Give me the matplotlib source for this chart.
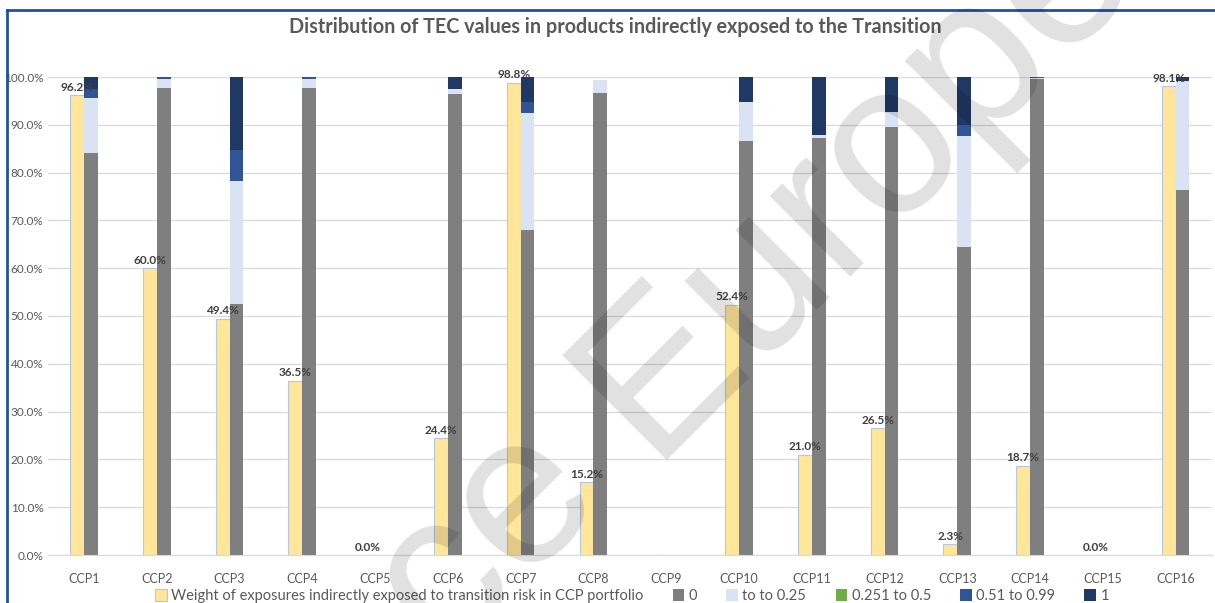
import numpy as np
import matplotlib.pyplot as plt
from matplotlib.lines import Line2D

plt.rcParams['font.family'] = ['Lato', 'DejaVu Sans']

# data (in %)
ccps = ["CCP1", "CCP2", "CCP3", "CCP4", "CCP5", "CCP6", "CCP7", "CCP8",
        "CCP9", "CCP10", "CCP11", "CCP12", "CCP13", "CCP14", "CCP15", "CCP16"]
weight = [96.2, 60.0, 49.4, 36.5, 0.0, 24.4, 98.8, 15.2,
          np.nan, 52.4, 21.0, 26.5, 2.3, 18.7, 0.0, 98.1]
tec_0 = [84.2, 97.8, 52.5, 97.8, 0, 96.4, 68.0, 96.7, 0, 86.6, 87.3, 89.5, 64.4, 99.5, 0, 76.4]
tec_025 = [11.4, 1.7, 25.7, 1.7, 0, 1.0, 24.5, 2.7, 0, 8.1, 0.6, 3.2, 23.3, 0.3, 0, 22.8]
tec_05 = [0, 0, 0, 0, 0, 0, 0, 0, 0, 0, 0, 0, 0, 0, 0, 0]
tec_099 = [1.9, 0.5, 6.5, 0.5, 0, 0, 2.2, 0, 0, 0, 0, 0, 2.3, 0.2, 0, 0]
tec_1 = [2.5, 0, 15.3, 0, 0, 2.6, 5.3, 0, 0, 5.3, 12.1, 7.3, 10.0, 0, 0, 0.8]

stack_names = ["0", "to to 0.25", "0.251 to 0.5", "0.51 to 0.99", "1"]
stack_data = [tec_0, tec_025, tec_05, tec_099, tec_1]
stack_colors = ["#7f7f7f", "#dae3f3", "#70ad47", "#2f5597", "#203864"]
weight_name = "Weight of exposures indirectly exposed to transition risk in CCP portfolio"

fig = plt.figure(figsize=(12.15, 6.03), dpi=100)
ax = fig.add_axes([47.6 / 1215, 48 / 603, (1212 - 47.6) / 1215, 478 / 603])

x = np.arange(len(ccps))
w = 0.19
w_vals = np.array(weight) / 100
ax.bar(x - w / 2, np.nan_to_num(w_vals), w, color="#ffe699", edgecolor="#b4c7e7",
       linewidth=0.8, zorder=2, label=weight_name)

bottom = np.zeros(len(ccps))
for name, vals, col in zip(stack_names, stack_data, stack_colors):
    v = np.array(vals) / 100
    ax.bar(x + w / 2, v, w, bottom=bottom, color=col, linewidth=0, zorder=2, label=name)
    bottom += v

# data labels for the yellow series
for xi, val in zip(x, weight):
    if np.isnan(val):
        continue
    ax.text(xi - w / 2, val / 100 + 0.005, f"{val:.1f}%", ha="center", va="bottom",
            fontsize=8.5, fontweight="bold", color="#404040", zorder=3)

ax.set_xlim(-0.5, len(ccps) - 0.5)
ax.set_ylim(0, 1.0)
ax.set_yticks(np.arange(0, 1.01, 0.1))
ax.set_yticklabels([f"{t * 100:.1f}%" for t in np.arange(0, 1.01, 0.1)])
ax.set_xticks(x)
ax.set_xticklabels(ccps)
ax.tick_params(axis="both", length=0, colors="#595959", labelsize=8.5)
ax.tick_params(axis="x", pad=13, labelsize=9)
ax.tick_params(axis="y", pad=3)
ax.yaxis.grid(True, color="#d9d9d9", linewidth=0.9)
ax.set_axisbelow(True)
for s in ["top", "right", "left"]:
    ax.spines[s].set_visible(False)
ax.spines["bottom"].set_color("#d9d9d9")

fig.text(615 / 1215, 1 - 27 / 603,
         "Distribution of TEC values in products indirectly exposed to the Transition",
         ha="center", va="center", fontsize=14.2, fontweight="bold", color="#595959")

handles, labels = ax.get_legend_handles_labels()
fig.legend(handles, labels, loc="center", bbox_to_anchor=(632 / 1215, 1 - 596 / 603),
           ncol=6, frameon=False, fontsize=10.5, handlelength=0.8, handleheight=0.8,
           handletextpad=0.3, columnspacing=2.0, labelcolor="#595959")

# frame border (left and top)
fig.add_artist(Line2D([7 / 1215, 7 / 1215], [0, 1 - 10 / 603], color="#2050a8", lw=2))
fig.add_artist(Line2D([7 / 1215, 1], [1 - 10 / 603, 1 - 10 / 603], color="#2050a8", lw=2))

# watermark
wx, wy = 650 / 1215, 1 - 460 / 603
fig.text(wx, wy, "Europe", ha="left", va="baseline", rotation=45, rotation_mode="anchor",
         fontsize=155, family="Liberation Sans", color="black", alpha=0.12, zorder=10)
fig.text(wx, wy, "Agence ", ha="right", va="baseline", rotation=45, rotation_mode="anchor",
         fontsize=155, family="Liberation Sans", color="black", alpha=0.12, zorder=10)

fig.savefig("out.png", dpi=100)
